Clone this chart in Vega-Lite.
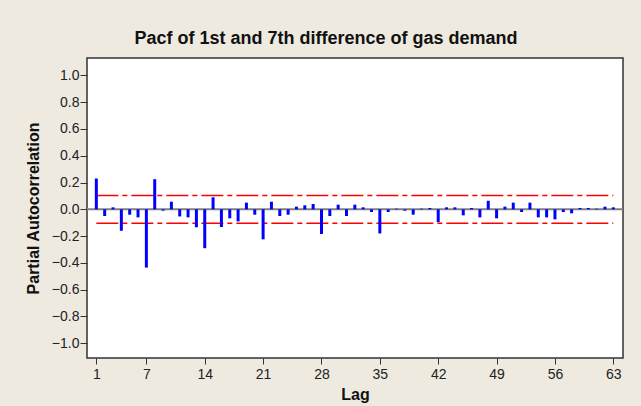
{
  "$schema": "https://vega.github.io/schema/vega-lite/v6.json",
  "autosize": "none",
  "width": 536,
  "height": 300,
  "padding": {"left": 87, "top": 58, "right": 18, "bottom": 48},
  "background": "#EEEAE0",
  "config": {
    "view": {"fill": "white", "stroke": "#333333", "strokeWidth": 1.5},
    "font": "Liberation Sans"
  },
  "title": {
    "text": "Pacf of 1st and 7th difference of gas demand",
    "fontSize": 18,
    "fontWeight": "bold",
    "font": "Liberation Sans",
    "color": "#111111",
    "anchor": "middle",
    "dx": -29,
    "offset": 10
  },
  "data": {"name": "pacf"},
  "datasets": {
    "pacf": [
      {"lag": 1, "pacf": 0.23}, {"lag": 2, "pacf": -0.05}, {"lag": 3, "pacf": 0.015},
      {"lag": 4, "pacf": -0.16}, {"lag": 5, "pacf": -0.04}, {"lag": 6, "pacf": -0.06},
      {"lag": 7, "pacf": -0.435}, {"lag": 8, "pacf": 0.225}, {"lag": 9, "pacf": -0.01},
      {"lag": 10, "pacf": 0.057}, {"lag": 11, "pacf": -0.053}, {"lag": 12, "pacf": -0.06},
      {"lag": 13, "pacf": -0.134}, {"lag": 14, "pacf": -0.29}, {"lag": 15, "pacf": 0.09},
      {"lag": 16, "pacf": -0.132}, {"lag": 17, "pacf": -0.067}, {"lag": 18, "pacf": -0.09},
      {"lag": 19, "pacf": 0.05}, {"lag": 20, "pacf": -0.04}, {"lag": 21, "pacf": -0.224},
      {"lag": 22, "pacf": 0.057}, {"lag": 23, "pacf": -0.05}, {"lag": 24, "pacf": -0.04},
      {"lag": 25, "pacf": 0.02}, {"lag": 26, "pacf": 0.03}, {"lag": 27, "pacf": 0.04},
      {"lag": 28, "pacf": -0.184}, {"lag": 29, "pacf": -0.05}, {"lag": 30, "pacf": 0.035},
      {"lag": 31, "pacf": -0.05}, {"lag": 32, "pacf": 0.035}, {"lag": 33, "pacf": 0.015},
      {"lag": 34, "pacf": -0.02}, {"lag": 35, "pacf": -0.18}, {"lag": 36, "pacf": -0.02},
      {"lag": 37, "pacf": 0.005}, {"lag": 38, "pacf": -0.01}, {"lag": 39, "pacf": -0.04},
      {"lag": 40, "pacf": 0.005}, {"lag": 41, "pacf": 0.01}, {"lag": 42, "pacf": -0.095},
      {"lag": 43, "pacf": 0.015}, {"lag": 44, "pacf": 0.015}, {"lag": 45, "pacf": -0.045},
      {"lag": 46, "pacf": 0.01}, {"lag": 47, "pacf": -0.06}, {"lag": 48, "pacf": 0.064},
      {"lag": 49, "pacf": -0.067}, {"lag": 50, "pacf": 0.02}, {"lag": 51, "pacf": 0.05},
      {"lag": 52, "pacf": -0.02}, {"lag": 53, "pacf": 0.05}, {"lag": 54, "pacf": -0.06},
      {"lag": 55, "pacf": -0.06}, {"lag": 56, "pacf": -0.075}, {"lag": 57, "pacf": -0.02},
      {"lag": 58, "pacf": -0.03}, {"lag": 59, "pacf": 0.01}, {"lag": 60, "pacf": 0.01},
      {"lag": 61, "pacf": 0.005}, {"lag": 62, "pacf": 0.02}, {"lag": 63, "pacf": 0.015}
    ],
    "limits": [
      {"from": 1, "to": 63, "limit": 0.104},
      {"from": 1, "to": 63, "limit": -0.104}
    ],
    "zero": [
      {"level": 0}
    ]
  },
  "layer": [
    {
      "data": {"name": "zero"},
      "mark": {"type": "rule", "color": "#808080", "strokeWidth": 2},
      "encoding": {
        "y": {
          "field": "level", "type": "quantitative",
          "scale": {"domain": [-1.11, 1.13], "nice": false, "zero": false},
          "axis": {
            "values": [-1.0, -0.8, -0.6, -0.4, -0.2, 0.0, 0.2, 0.4, 0.6, 0.8, 1.0],
            "format": ".1f",
            "title": "Partial Autocorrelation",
            "grid": false,
            "domain": false,
            "labelOverlap": false,
            "tickColor": "#333333",
            "tickSize": 7,
            "labelFontSize": 14,
            "labelColor": "#222222",
            "labelPadding": 1,
            "titleFontSize": 16,
            "titleFontWeight": "bold",
            "titleColor": "#111111",
            "titlePadding": 10
          }
        }
      }
    },
    {
      "data": {"name": "limits"},
      "mark": {"type": "rule", "color": "#FF0000", "strokeWidth": 1.5, "strokeDash": [22, 4, 5, 4]},
      "encoding": {
        "x": {
          "field": "from", "type": "quantitative",
          "scale": {"domain": [-0.12, 64.16], "nice": false, "zero": false},
          "axis": {
            "values": [1, 7, 14, 21, 28, 35, 42, 49, 56, 63],
            "title": "Lag",
            "grid": false,
            "domain": false,
            "labelOverlap": false,
            "tickColor": "#333333",
            "tickSize": 6,
            "labelFontSize": 14,
            "labelColor": "#222222",
            "labelPadding": 3,
            "titleFontSize": 16,
            "titleFontWeight": "bold",
            "titleColor": "#111111",
            "titlePadding": 5
          }
        },
        "x2": {"field": "to"},
        "y": {
          "field": "limit", "type": "quantitative",
          "scale": {"domain": [-1.11, 1.13], "nice": false, "zero": false},
          "axis": {
            "values": [-1.0, -0.8, -0.6, -0.4, -0.2, 0.0, 0.2, 0.4, 0.6, 0.8, 1.0],
            "format": ".1f",
            "title": "Partial Autocorrelation",
            "grid": false,
            "domain": false,
            "labelOverlap": false,
            "tickColor": "#333333",
            "tickSize": 7,
            "labelFontSize": 14,
            "labelColor": "#222222",
            "labelPadding": 1,
            "titleFontSize": 16,
            "titleFontWeight": "bold",
            "titleColor": "#111111",
            "titlePadding": 10
          }
        }
      }
    },
    {
      "mark": {"type": "rule", "color": "#0000FF", "strokeWidth": 3, "strokeCap": "butt"},
      "encoding": {
        "x": {
          "field": "lag", "type": "quantitative",
          "scale": {"domain": [-0.12, 64.16], "nice": false, "zero": false},
          "axis": {
            "values": [1, 7, 14, 21, 28, 35, 42, 49, 56, 63],
            "title": "Lag",
            "grid": false,
            "domain": false,
            "labelOverlap": false,
            "tickColor": "#333333",
            "tickSize": 6,
            "labelFontSize": 14,
            "labelColor": "#222222",
            "labelPadding": 3,
            "titleFontSize": 16,
            "titleFontWeight": "bold",
            "titleColor": "#111111",
            "titlePadding": 5
          }
        },
        "y": {
          "field": "pacf", "type": "quantitative",
          "scale": {"domain": [-1.11, 1.13], "nice": false, "zero": false},
          "axis": {
            "values": [-1.0, -0.8, -0.6, -0.4, -0.2, 0.0, 0.2, 0.4, 0.6, 0.8, 1.0],
            "format": ".1f",
            "title": "Partial Autocorrelation",
            "grid": false,
            "domain": false,
            "labelOverlap": false,
            "tickColor": "#333333",
            "tickSize": 7,
            "labelFontSize": 14,
            "labelColor": "#222222",
            "labelPadding": 1,
            "titleFontSize": 16,
            "titleFontWeight": "bold",
            "titleColor": "#111111",
            "titlePadding": 10
          }
        },
        "y2": {"datum": 0}
      }
    }
  ]
}
